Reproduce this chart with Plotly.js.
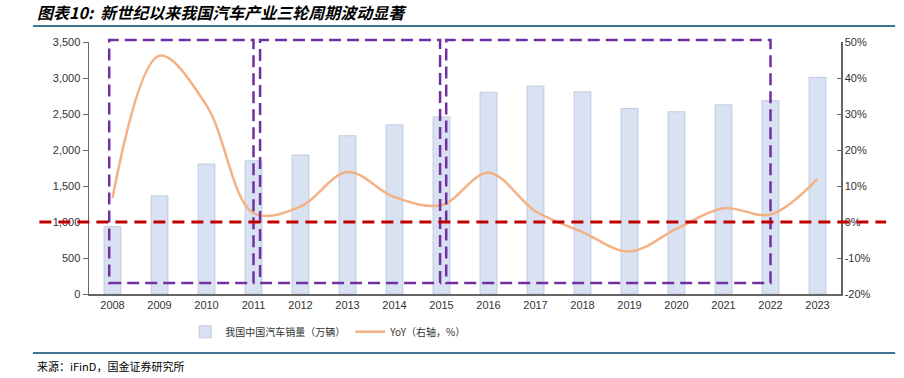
<!DOCTYPE html>
<html>
<head>
<meta charset="utf-8">
<script src="https://cdn.plot.ly/plotly-3.0.1.min.js"></script>
<style>
  html, body { margin: 0; padding: 0; background: #fff; }
  #chart { width: 904px; height: 378px; }
</style>
</head>
<body>
<div id="chart"></div>
<script>
// ---- data ----
const years = [2008, 2009, 2010, 2011, 2012, 2013, 2014, 2015, 2016, 2017, 2018, 2019, 2020, 2021, 2022, 2023];
const sales = [938, 1364, 1806, 1851, 1931, 2198, 2349, 2460, 2803, 2888, 2808, 2577, 2531, 2627, 2686, 3009];
const yoy = [6.7, 46.2, 32.4, 2.5, 4.3, 13.9, 6.9, 4.7, 13.7, 3.0, -2.8, -8.2, -1.9, 3.8, 2.1, 12.0];
const salesName = '我国中国汽车销量（万辆）';
const yoyName = 'YoY（右轴，%）';
const leftTicks = [0, 500, 1000, 1500, 2000, 2500, 3000, 3500];
const rightTicks = [-20, -10, 0, 10, 20, 30, 40, 50];
// cycle boxes (start year, end year)
const cycles = [[2008, 2011], [2011, 2015], [2015, 2022]];

const xMin = 2007.5, xMax = 2023.5;
const px = v => (v - xMin) / (xMax - xMin);

const boxOffsets = [[-0.07, 0.0], [0.14, -0.03], [0.10, 0.0]];
const purple = '#7030A0';
const shapes = [];
cycles.forEach((c, i) => {
  shapes.push({
    type: 'rect', xref: 'paper', yref: 'paper',
    x0: px(c[0] + boxOffsets[i][0]), x1: px(c[1] + boxOffsets[i][1]),
    y0: 0.044, y1: 1.008,
    line: { color: purple, width: 2.5, dash: '12px,6px' },
    fillcolor: 'rgba(0,0,0,0)', layer: 'above'
  });
});
// red zero line (1,000 on left = 0% on right)
shapes.push({
  type: 'line', xref: 'paper', yref: 'y2',
  x0: -0.066, x1: 1.06, y0: 0, y1: 0,
  line: { color: '#C00000', width: 3, dash: '12px,7px' }, layer: 'above'
});
// title rule and source rule
shapes.push({ type: 'line', xref: 'paper', yref: 'paper', x0: -0.0745, x1: 1.072, y0: 1.0635, y1: 1.0635,
  line: { color: '#3F7696', width: 2 } });
shapes.push({ type: 'line', xref: 'paper', yref: 'paper', x0: -0.0745, x1: 1.072, y0: -0.234, y1: -0.234,
  line: { color: '#3F7696', width: 2 } });

const traces = [
  {
    type: 'bar', x: years, y: sales, name: salesName,
    marker: { color: '#D9E2F3', line: { color: '#B8C3D8', width: 0.8 } },
    width: 0.36, yaxis: 'y'
  },
  {
    type: 'scatter', mode: 'lines', x: years, y: yoy, name: yoyName,
    line: { color: '#F4B183', width: 2.5, shape: 'spline', smoothing: 1.0 },
    yaxis: 'y2', cliponaxis: false
  }
];

const tickFont = { family: 'Liberation Sans, Arial, sans-serif', size: 11, color: '#333333' };

const layout = {
  width: 904, height: 378,
  margin: { l: 89, r: 63, t: 42, b: 84 },
  paper_bgcolor: '#ffffff', plot_bgcolor: '#ffffff',
  showlegend: true,
  legend: {
    orientation: 'h', x: 0.128, xanchor: 'left', y: -0.15, yanchor: 'middle',
    font: { family: 'Noto Sans CJK SC, sans-serif', size: 10, color: '#333333' },
    itemwidth: 30, traceorder: 'normal'
  },
  xaxis: {
    range: [xMin, xMax], tickmode: 'array', tickvals: years, ticktext: years.map(String),
    showgrid: false, zeroline: false, showline: true, linecolor: '#666666', linewidth: 1.5,
    ticks: '', tickfont: tickFont, fixedrange: true
  },
  yaxis: {
    range: [0, 3500], tickmode: 'array', tickvals: leftTicks,
    ticktext: leftTicks.map(v => v.toLocaleString('en-US')),
    showgrid: false, zeroline: false, showline: true, linecolor: '#666666', linewidth: 1.5,
    ticks: 'outside', ticklen: 5, tickcolor: '#666666', tickfont: tickFont, fixedrange: true
  },
  yaxis2: {
    range: [-20, 50], overlaying: 'y', side: 'right', tickmode: 'array', tickvals: rightTicks,
    ticktext: rightTicks.map(v => v + '%'),
    showgrid: false, zeroline: false, showline: true, linecolor: '#666666', linewidth: 1.5,
    ticks: 'inside', ticklen: 4, tickcolor: '#666666', tickfont: tickFont, fixedrange: true
  },
  shapes: shapes,
  annotations: [
    {
      xref: 'paper', yref: 'paper', x: -0.072, y: 1.119, xanchor: 'left', yanchor: 'middle',
      text: '<b><i>图表10:  新世纪以来我国汽车产业三轮周期波动显著</i></b>', showarrow: false,
      font: { family: 'Noto Sans CJK SC, sans-serif', size: 16, color: '#000000' }
    },
    {
      xref: 'paper', yref: 'paper', x: -0.072, y: -0.286, xanchor: 'left', yanchor: 'middle',
      text: '来源：iFinD，国金证券研究所', showarrow: false,
      font: { family: 'Noto Sans CJK SC, sans-serif', size: 11, color: '#000000' }
    }
  ]
};

Plotly.newPlot('chart', traces, layout, { displayModeBar: false, staticPlot: true });
</script>
</body>
</html>
